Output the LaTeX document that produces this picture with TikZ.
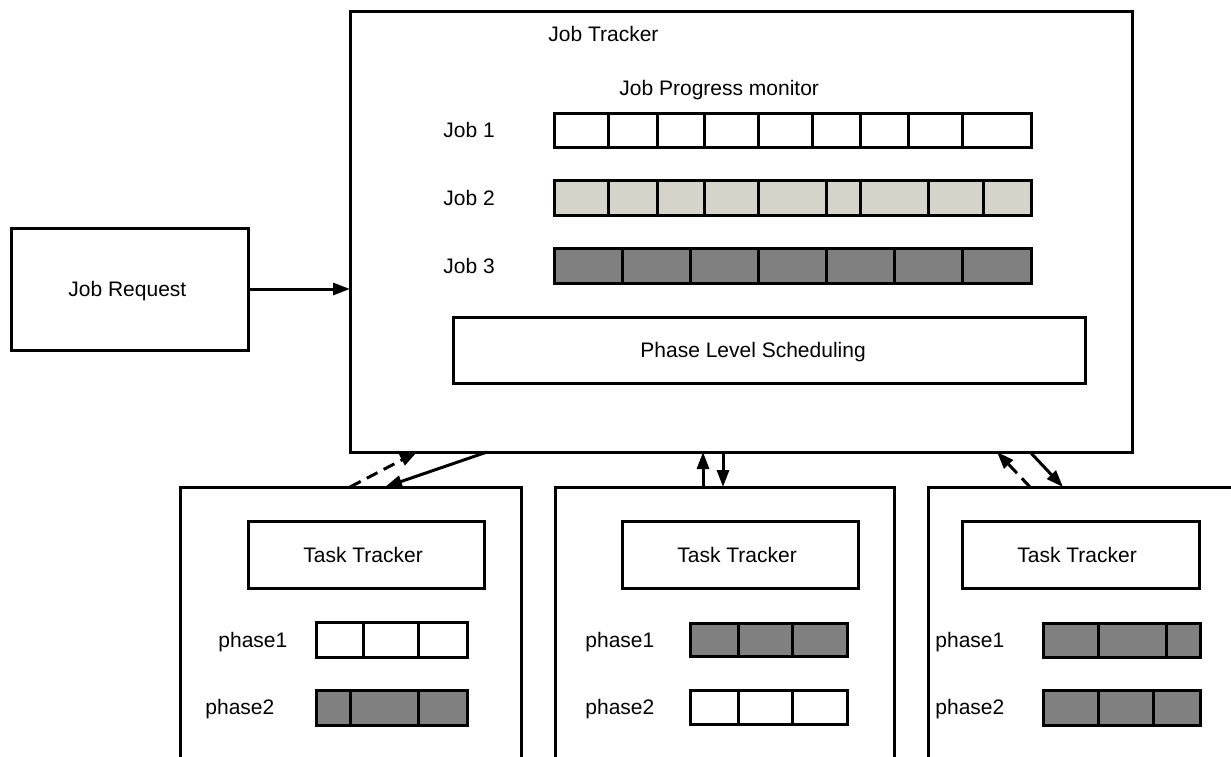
\documentclass[tikz,border=0pt]{standalone}
\usepackage{fontspec}
\setmainfont{Liberation Sans}
\usetikzlibrary{arrows.meta}
\definecolor{lightcell}{RGB}{214,211,203}
\definecolor{darkcell}{RGB}{128,128,128}
\tikzset{
  box/.style={draw=black, line width=1.5pt, fill=white, inner sep=0pt, outer sep=0pt, rectangle},
  barbox/.style={draw=black, line width=1.5pt, inner sep=0pt, outer sep=0pt, rectangle},
  divline/.style={draw=black, line width=1.5pt},
  lbl/.style={font=\fontsize{10.5}{12}\selectfont, inner sep=0pt, anchor=base west},
  conn/.style={draw=black, line width=1.5pt, -{Triangle[length=8.5pt,width=6pt]}},
  dconn/.style={conn, dash pattern=on 6pt off 3.5pt},
}
\begin{document}
\begin{tikzpicture}[x=0.5pt, y=-0.5pt]
\useasboundingbox (0,0) rectangle (1231,756);
% Job Request
\node[box, minimum width=118.5pt, minimum height=61pt] (jr) at (129.5,289) {};
\node[lbl] (jrt) at (68,296) {Job Request};
% Job Tracker
\node[box, minimum width=391pt, minimum height=220.5pt] (jt) at (741,231.5) {};
\node[lbl] (jtt) at (548,41) {Job Tracker};
\node[lbl] (jpm) at (619,95) {Job Progress monitor};
% Job bars
\node[lbl] (j1l) at (443,137.5) {Job 1};
\node[lbl] (j2l) at (443,205) {Job 2};
\node[lbl] (j3l) at (443,273) {Job 3};
\node[barbox, fill=white, minimum width=238.5pt, minimum height=17pt] (job1) at (792.5,130) {};
\foreach \x in {608,657,704,758,812,860,908,962} \draw[divline] (\x,113) -- (\x,147);
\node[barbox, fill=lightcell, minimum width=238.5pt, minimum height=17.5pt] (job2) at (792.5,197.5) {};
\foreach \x in {608,657,704,758,826,860,928,983} \draw[divline] (\x,180) -- (\x,215);
\node[barbox, fill=darkcell, minimum width=238.5pt, minimum height=17.5pt] (job3) at (792.5,265.5) {};
\foreach \x in {622,690,758,826,894,962} \draw[divline] (\x,248) -- (\x,283);
% Phase Level Scheduling
\node[box, minimum width=316pt, minimum height=33pt] (pls) at (769,350) {};
\node[lbl] (plst) at (640,357.5) {Phase Level Scheduling};
% Task tracker outer boxes (open at the bottom of the picture)
\node[box, minimum width=170.5pt, minimum height=160pt] (tt1) at (350.5,647) {};
\node[box, minimum width=169.5pt, minimum height=160pt] (tt2) at (724.5,647) {};
\node[box, minimum width=170pt, minimum height=160pt] (tt3) at (1098,647) {};
% Inner task tracker boxes
\node[box, minimum width=118pt, minimum height=33.5pt] (tti1) at (366,554.5) {};
\node[lbl] at (303,562) {Task Tracker};
\node[box, minimum width=118pt, minimum height=33.5pt] (tti2) at (740,554.5) {};
\node[lbl] at (677,562) {Task Tracker};
\node[box, minimum width=118.5pt, minimum height=33.5pt] (tti3) at (1080.5,554.5) {};
\node[lbl] at (1017,562) {Task Tracker};
% Phase bars TT1
\node[lbl] at (218,647) {phase1};
\node[lbl] at (205,714.5) {phase2};
\node[barbox, fill=white, minimum width=75.5pt, minimum height=17.5pt] (p11) at (391.5,639.5) {};
\foreach \x in {363,418} \draw[divline] (\x,622) -- (\x,657);
\node[barbox, fill=darkcell, minimum width=75.5pt, minimum height=17.5pt] (p12) at (391.5,707.5) {};
\foreach \x in {350,418} \draw[divline] (\x,690) -- (\x,725);
% Phase bars TT2
\node[lbl] at (585,647) {phase1};
\node[lbl] at (585,714.5) {phase2};
\node[barbox, fill=darkcell, minimum width=78.5pt, minimum height=16.5pt] (p21) at (768.5,639.5) {};
\foreach \x in {738,792} \draw[divline] (\x,623) -- (\x,656);
\node[barbox, fill=white, minimum width=78.5pt, minimum height=17pt] (p22) at (768.5,707) {};
\foreach \x in {738,792} \draw[divline] (\x,690) -- (\x,724);
% Phase bars TT3
\node[lbl] at (935,647) {phase1};
\node[lbl] at (935,714.5) {phase2};
\node[barbox, fill=darkcell, minimum width=78.5pt, minimum height=17pt] (p31) at (1121.5,640) {};
\foreach \x in {1098,1166} \draw[divline] (\x,623) -- (\x,657);
\node[barbox, fill=darkcell, minimum width=78.5pt, minimum height=17.5pt] (p32) at (1121.5,707.5) {};
\foreach \x in {1098,1153} \draw[divline] (\x,690) -- (\x,725);
% Connectors
\draw[conn] (jr.east) -- (jr.east -| jt.west);
\path (jt.south west) ++(67,0) coordinate (jb1);
\path (jt.south west) ++(137,0) coordinate (jb2);
\path (jt.south west) ++(353,0) coordinate (jb3);
\path (jt.south west) ++(373,0) coordinate (jb4);
\path (jt.south west) ++(647,0) coordinate (jb5);
\path (jt.south west) ++(680,0) coordinate (jb6);
\path (tt1.north west) ++(170,0) coordinate (tb1);
\path (tt1.north west) ++(205,0) coordinate (tb2);
\path (tt2.north west) ++(148,0) coordinate (tb3);
\path (tt2.north west) ++(168,0) coordinate (tb4);
\path (tt3.north west) ++(102,0) coordinate (tb5);
\path (tt3.north west) ++(135,0) coordinate (tb6);
\draw[dconn] (tb1) -- (jb1);
\draw[conn] (jb2) -- (tb2);
\draw[conn] (tb3) -- (jb3);
\draw[conn] (jb4) -- (tb4);
\draw[dconn] (tb5) -- (jb5);
\draw[conn] (jb6) -- (tb6);
\end{tikzpicture}
\end{document}
